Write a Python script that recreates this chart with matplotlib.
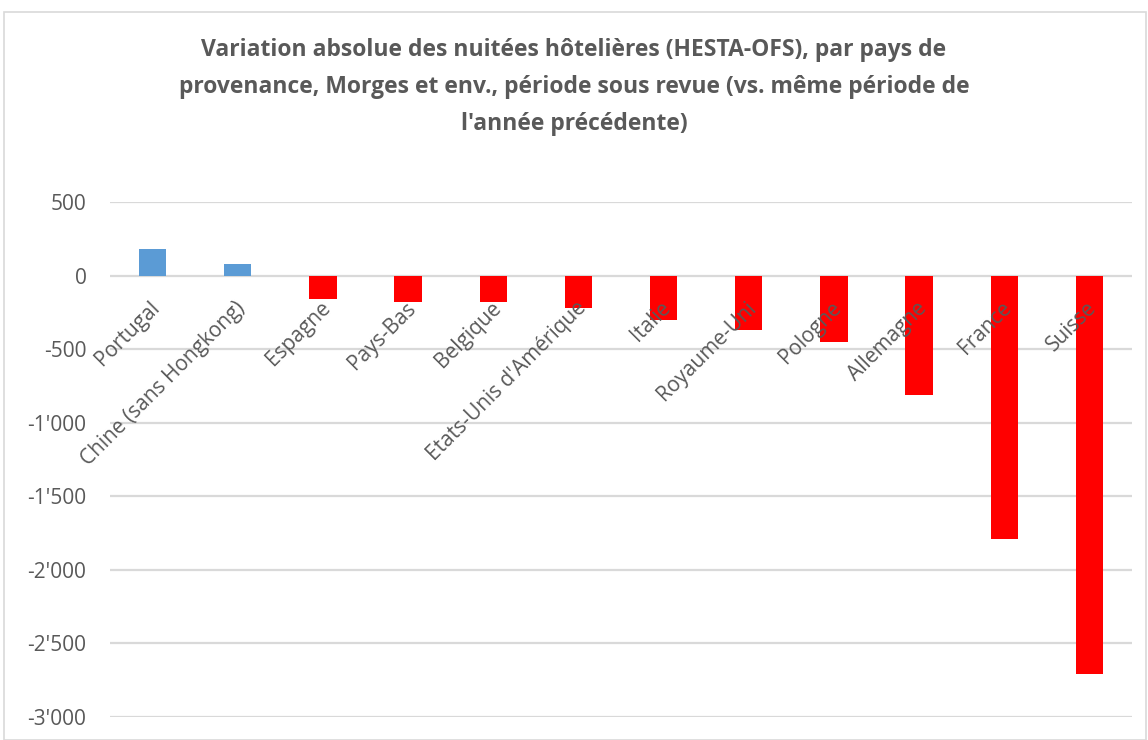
import matplotlib
matplotlib.use("Agg")
import matplotlib.pyplot as plt
from matplotlib.patches import Rectangle
from matplotlib.transforms import offset_copy

categories = ["Portugal", "Chine (sans Hongkong)", "Espagne", "Pays-Bas", "Belgique",
              "Etats-Unis d'Amérique", "Italie", "Royaume-Uni", "Pologne",
              "Allemagne", "France", "Suisse"]
values = [183, 82, -159, -181, -181, -222, -304, -367, -454, -814, -1789, -2705]
yticks = [500, 0, -500, -1000, -1500, -2000, -2500, -3000]
ytick_labels = ["500", "0", "-500", "-1'000", "-1'500", "-2'000", "-2'500", "-3'000"]
title = ("Variation absolue des nuitées hôtelières (HESTA-OFS), par pays de\n"
         "provenance, Morges et env., période sous revue (vs. même période de\n"
         "l'année précédente)")

plt.rcParams['font.family'] = ['Open Sans', 'DejaVu Sans']
TXT = "#595959"
GRID = "#d9d9d9"

fig = plt.figure(figsize=(11.48, 7.40), dpi=100)
fig.patches.append(Rectangle((4/1148, 0), 1 - 4/1148 - 0.002, 1 - 12/740,
                             transform=fig.transFigure, fill=False,
                             edgecolor=GRID, linewidth=1.2))
ax = fig.add_axes([110/1148, 23/740, (1132-110)/1148, (717-202)/740])

x = list(range(len(categories)))
colors = ["#5b9bd5" if v >= 0 else "#ff0000" for v in values]
ax.bar(x, values, width=0.32, color=colors, zorder=3)

ax.set_xlim(-0.5, len(categories) - 0.5)
ax.set_ylim(-3000, 500)
ax.set_yticks(yticks)
ax.set_yticklabels(ytick_labels, fontsize=15, color=TXT)
ax.tick_params(axis='y', length=0, pad=17)
ax.tick_params(axis='x', length=0, labelbottom=False)
ax.yaxis.grid(True, color=GRID, linewidth=1.6, zorder=0)
for s in ax.spines.values():
    s.set_visible(False)

for xi, lab in zip(x, categories):
    tr = offset_copy(ax.transData, fig=fig, x=-3, y=-22, units='dots')
    ax.text(xi, 0, lab, transform=tr, rotation=45, rotation_mode='anchor',
            ha='right', va='top', fontsize=15, color=TXT, zorder=4)

fig.text(0.5, 1 - 38/740, title, ha='center', va='top', fontsize=16.5,
         fontweight='bold', color=TXT, linespacing=1.72)

fig.savefig("out.png", dpi=100, facecolor="white")
